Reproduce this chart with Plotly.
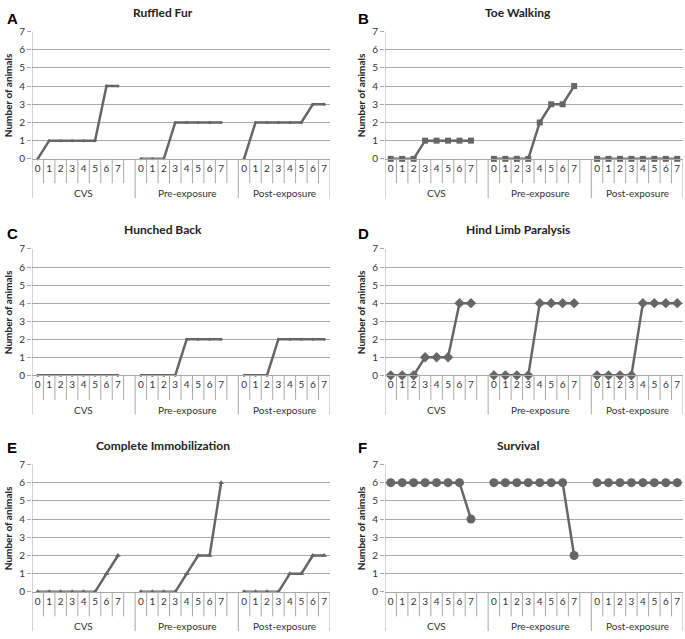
import plotly.graph_objects as go

days = [0, 1, 2, 3, 4, 5, 6, 7]
groups = ["CVS", "Pre-exposure", "Post-exposure"]
letters = ["A", "B", "C", "D", "E", "F"]
titles = ["Ruffled Fur", "Toe Walking", "Hunched Back", "Hind Limb Paralysis",
          "Complete Immobilization", "Survival"]

# values per group: CVS, Pre-exposure, Post-exposure
ruffled_fur = [[0, 1, 1, 1, 1, 1, 4, 4], [0, 0, 0, 2, 2, 2, 2, 2], [0, 2, 2, 2, 2, 2, 3, 3]]
toe_walking = [[0, 0, 0, 1, 1, 1, 1, 1], [0, 0, 0, 0, 2, 3, 3, 4], [0, 0, 0, 0, 0, 0, 0, 0]]
hunched_back = [[0, 0, 0, 0, 0, 0, 0, 0], [0, 0, 0, 0, 2, 2, 2, 2], [0, 0, 0, 2, 2, 2, 2, 2]]
hind_limb = [[0, 0, 0, 1, 1, 1, 4, 4], [0, 0, 0, 0, 4, 4, 4, 4], [0, 0, 0, 0, 4, 4, 4, 4]]
immobilization = [[0, 0, 0, 0, 0, 0, 1, 2], [0, 0, 0, 0, 1, 2, 2, 6], [0, 0, 0, 0, 1, 1, 2, 2]]
survival = [[6, 6, 6, 6, 6, 6, 6, 4], [6, 6, 6, 6, 6, 6, 6, 2], [6, 6, 6, 6, 6, 6, 6, 6]]

panels = [ruffled_fur, toe_walking, hunched_back, hind_limb, immobilization, survival]
markers = [("circle", 3), ("square", 6), ("circle", 3), ("diamond", 8),
           ("triangle-up", 5), ("circle", 9)]

W, H = 685, 639
LINE = "#666666"
GRID = "#a8a8a8"
FONT = "Lato"

# pixel layout: plot x extent per column, y0 / y7 per row
cols = [(32, 330), (385, 683)]
rows = [(25, 155), (247, 376), (467, 597)]
title_x = [163, 518]
letter_x = [5, 356]
title_y = [6, 227, 448]
letter_y = [12, 231, 450]

fig = go.Figure()
layout = dict(shapes=[], annotations=[])

for i, data in enumerate(panels):
    r, c = divmod(i, 2)
    n = "" if i == 0 else str(i + 1)
    xa, ya = "x" + n, "y" + n
    sym, size = markers[i]
    for g, vals in enumerate(data):
        fig.add_trace(go.Scatter(
            x=[9 * g + d for d in days], y=vals, xaxis=xa, yaxis=ya,
            mode="lines+markers", showlegend=False, cliponaxis=False,
            line=dict(color=LINE, width=2.5),
            marker=dict(symbol=sym, size=size, color=LINE)))

    x0, x1 = cols[c]
    top, bot = rows[r]
    layout["xaxis" + n] = dict(
        domain=[x0 / W, x1 / W], range=[-0.5, 25.5], anchor=ya,
        tickvals=[9 * g + d for g in range(3) for d in days],
        ticktext=[str(d) for g in range(3) for d in days],
        showgrid=False, zeroline=False, showline=True, linecolor=GRID,
        ticks="", tickfont=dict(family=FONT, size=10, color="#333333"))
    layout["yaxis" + n] = dict(
        domain=[1 - bot / H, 1 - top / H], range=[0, 7], anchor=xa,
        tickmode="linear", tick0=0, dtick=1,
        showgrid=True, gridcolor=GRID, gridwidth=1, zeroline=False,
        ticks="outside", ticklen=4, tickcolor=GRID,
        tickfont=dict(family=FONT, size=10, color="#333333"))

    h = bot - top
    short = -25 / h
    long = -40 / h
    xr, yr = xa, ya + " domain"
    # separators between categories
    for g in range(3):
        for d in days[1:]:
            layout["shapes"].append(dict(type="line", xref=xr, yref=yr,
                                         x0=9 * g + d - 0.5, x1=9 * g + d - 0.5, y0=0, y1=short,
                                         line=dict(color=GRID, width=1)))
        if g < 2:
            layout["shapes"].append(dict(type="line", xref=xr, yref=yr,
                                         x0=9 * g + 7.5, x1=9 * g + 7.5, y0=0, y1=short,
                                         line=dict(color=GRID, width=1)))
    for xb in [8.5, 17.5, 25.5]:
        layout["shapes"].append(dict(type="line", xref=xr, yref=yr, x0=xb, x1=xb,
                                     y0=0, y1=long, line=dict(color=GRID, width=1)))
    layout["shapes"].append(dict(type="line", xref=xr, yref=yr, x0=-0.5, x1=-0.5,
                                 y0=1, y1=long, line=dict(color=GRID, width=1)))

    # group labels
    bounds = [(-0.5, 8.5), (8.5, 17.5), (17.5, 25.5)]
    for gname, (b0, b1) in zip(groups, bounds):
        layout["annotations"].append(dict(
            text=gname, xref=xr, yref=yr, x=(b0 + b1) / 2, y=-35 / h,
            xanchor="center", yanchor="middle",
            showarrow=False, font=dict(family=FONT, size=10, color="#333333")))

    layout["annotations"].append(dict(
        text="<b>Number of animals</b>", xref="paper", yref="paper",
        x=(x0 - 24) / W, y=1 - (top + bot) / 2 / H, textangle=-90,
        xanchor="center", yanchor="middle",
        showarrow=False, font=dict(family=FONT, size=10, color="#222222")))
    layout["annotations"].append(dict(
        text="<b>" + titles[i] + "</b>", xref="paper", yref="paper",
        x=title_x[c] / W, y=1 - title_y[r] / H, xanchor="center", yanchor="middle",
        showarrow=False, font=dict(family=FONT, size=12, color="#222222")))
    layout["annotations"].append(dict(
        text="<b>" + letters[i] + "</b>", xref="paper", yref="paper",
        x=letter_x[c] / W, y=1 - letter_y[r] / H, xanchor="left", yanchor="middle",
        showarrow=False, font=dict(family="Liberation Sans", size=15, color="#000000")))

fig.update_layout(width=W, height=H, margin=dict(l=0, r=0, t=0, b=0),
                  plot_bgcolor="white", paper_bgcolor="white", **layout)

fig.write_html("out.html", config={"displayModeBar": False},
               post_script="document.body.style.margin='0';")
